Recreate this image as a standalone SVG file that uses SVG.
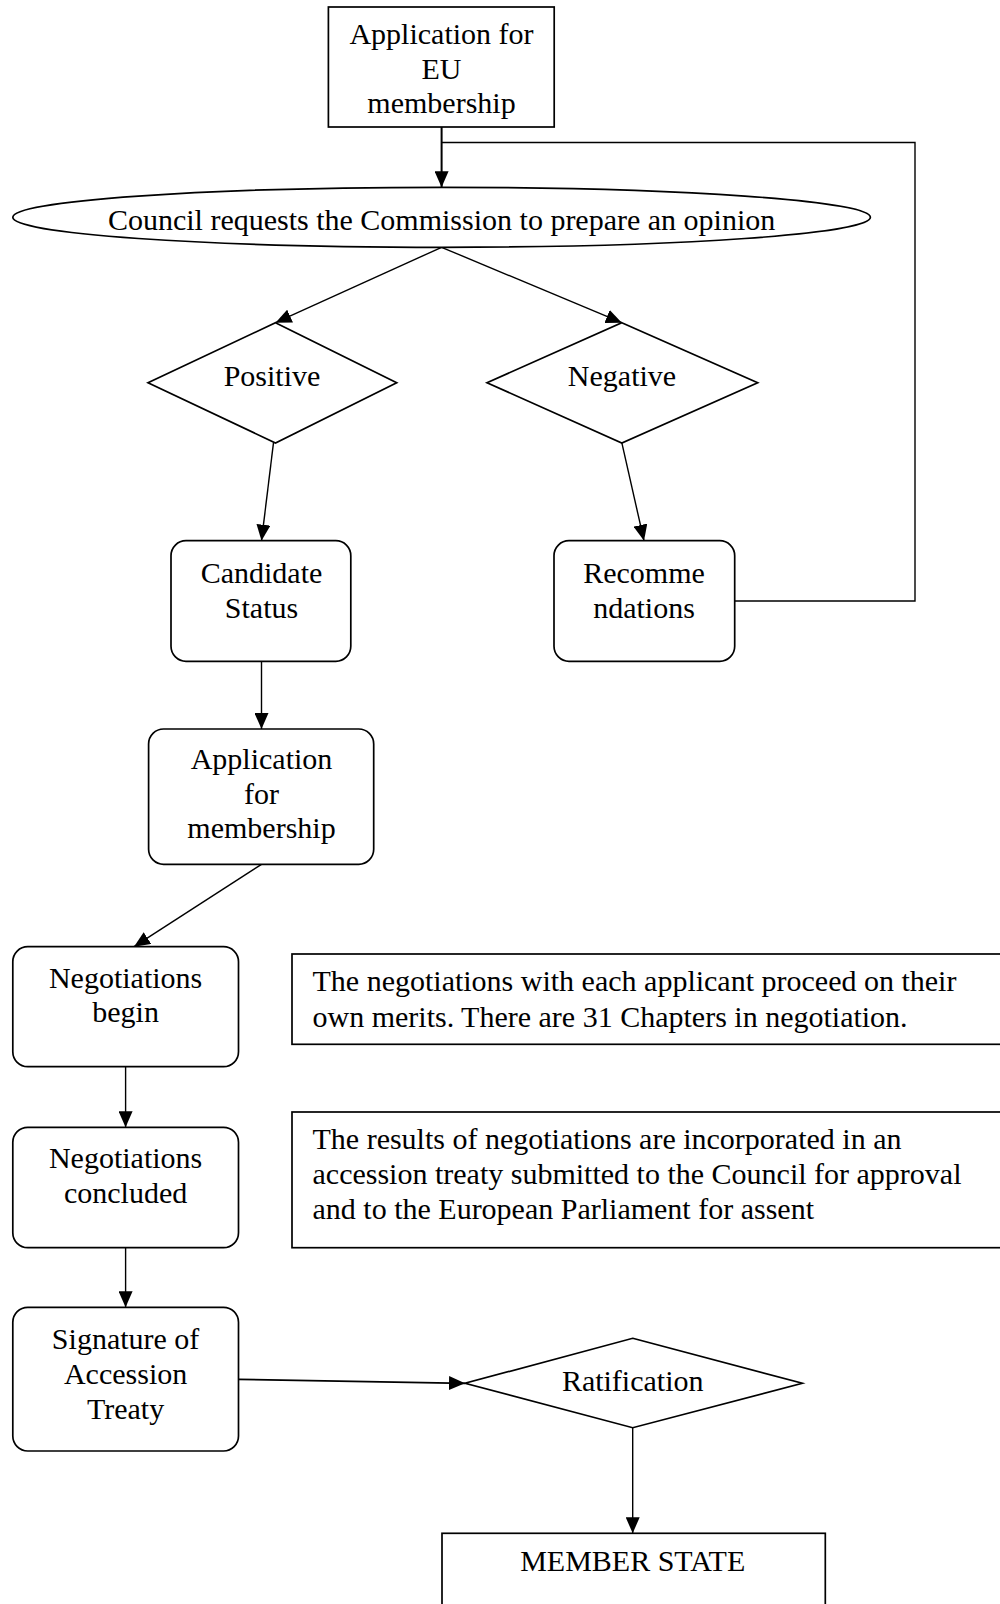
<svg xmlns="http://www.w3.org/2000/svg" width="1000" height="1604" viewBox="0 0 1000 1604">
<style>
.box{fill:#fff;stroke:#000;stroke-width:1.7}
.t{font-family:"Liberation Serif","Times New Roman",serif;font-size:30px;fill:#000}
.c{text-anchor:middle}
.ln{fill:none;stroke:#000;stroke-width:1.4}
.a{marker-end:url(#ah)}
</style>
<defs>
<marker id="ah" markerUnits="userSpaceOnUse" markerWidth="16" markerHeight="14" refX="16" refY="7" orient="auto" viewBox="0 0 16 14">
<path d="M0,0 L16,7 L0,14 z" fill="#000"/>
</marker>
</defs>
<rect width="1000" height="1604" fill="#fff"/>
<g id="connectors">
<line class="ln a" x1="441.6" y1="127" x2="441.6" y2="187.3" style="stroke-width:2"/>
<polyline class="ln" points="734.7,601 915,601 915,142.5 441.6,142.5"/>
<line class="ln a" x1="441.6" y1="247.3" x2="275.5" y2="322.7"/>
<line class="ln a" x1="441.6" y1="247.3" x2="621.8" y2="322.7"/>
<line class="ln a" x1="273.5" y1="442.7" x2="261.5" y2="540.7"/>
<line class="ln a" x1="621.8" y1="442.7" x2="644" y2="540.7"/>
<line class="ln a" x1="261.5" y1="661.3" x2="261.5" y2="729"/>
<line class="ln a" x1="261.5" y1="864.3" x2="134" y2="946.7"/>
<line class="ln a" x1="125.6" y1="1066.7" x2="125.6" y2="1127.3"/>
<line class="ln a" x1="125.6" y1="1247.7" x2="125.6" y2="1307.3"/>
<line class="ln a" x1="238.5" y1="1379.3" x2="465" y2="1383.3" style="stroke-width:1.8"/>
<line class="ln a" x1="632.7" y1="1427.7" x2="632.7" y2="1533.3"/>
</g>
<g id="n-application-eu">
<rect class="box" x="328.4" y="7" width="225.8" height="120"/>
<text class="t c" x="441.5" y="44">Application for</text>
<text class="t c" x="441.5" y="79">EU</text>
<text class="t c" x="441.5" y="113">membership</text>
</g>
<g id="n-council">
<ellipse class="box" cx="441.6" cy="217.3" rx="428.8" ry="30"/>
<text class="t c" x="441.6" y="230">Council requests the Commission to prepare an opinion</text>
</g>
<g id="n-positive">
<polygon class="box" points="275.5,322.7 396.7,382.7 275.5,443 148,382.7"/>
<text class="t c" x="272" y="386">Positive</text>
</g>
<g id="n-negative">
<polygon class="box" points="621.8,322.7 757.7,382.7 621.8,443 487,382.7"/>
<text class="t c" x="622" y="386">Negative</text>
</g>
<g id="n-candidate">
<rect class="box" x="171" y="540.7" width="179.8" height="120.6" rx="15" ry="15"/>
<text class="t c" x="261.5" y="582.5">Candidate</text>
<text class="t c" x="261.5" y="617.5">Status</text>
</g>
<g id="n-recommendations">
<rect class="box" x="554" y="540.7" width="180.7" height="120.6" rx="15" ry="15"/>
<text class="t c" x="644" y="582.5">Recomme</text>
<text class="t c" x="644" y="617.5">ndations</text>
</g>
<g id="n-application-membership">
<rect class="box" x="148.6" y="729" width="225.1" height="135.3" rx="15" ry="15"/>
<text class="t c" x="261.5" y="769">Application</text>
<text class="t c" x="261.5" y="804">for</text>
<text class="t c" x="261.5" y="838">membership</text>
</g>
<g id="n-neg-begin">
<rect class="box" x="12.8" y="946.7" width="225.7" height="120" rx="15" ry="15"/>
<text class="t c" x="125.6" y="988">Negotiations</text>
<text class="t c" x="125.6" y="1021.5">begin</text>
</g>
<g id="n-note1">
<rect class="box" x="292" y="954" width="720" height="90.3"/>
<text class="t" x="312.5" y="991">The negotiations with each applicant proceed on their</text>
<text class="t" x="312.5" y="1027">own merits. There are 31 Chapters in negotiation.</text>
</g>
<g id="n-neg-concluded">
<rect class="box" x="12.8" y="1127.3" width="225.7" height="120.4" rx="15" ry="15"/>
<text class="t c" x="125.6" y="1167.5">Negotiations</text>
<text class="t c" x="125.6" y="1202.5">concluded</text>
</g>
<g id="n-note2">
<rect class="box" x="292" y="1112" width="720" height="135.7"/>
<text class="t" x="312.5" y="1149">The results of negotiations are incorporated in an</text>
<text class="t" x="312.5" y="1184">accession treaty submitted to the Council for approval</text>
<text class="t" x="312.5" y="1219">and to the European Parliament for assent</text>
</g>
<g id="n-signature">
<rect class="box" x="12.8" y="1307.3" width="225.7" height="143.7" rx="15" ry="15"/>
<text class="t c" x="125.6" y="1349">Signature of</text>
<text class="t c" x="125.6" y="1384">Accession</text>
<text class="t c" x="125.6" y="1419">Treaty</text>
</g>
<g id="n-ratification">
<polygon class="box" points="632.7,1338.3 802.3,1383.3 632.7,1427.7 465,1383.3"/>
<text class="t c" x="632.7" y="1391">Ratification</text>
</g>
<g id="n-member-state">
<rect class="box" x="442" y="1533.3" width="383.3" height="90"/>
<text class="t c" x="632.7" y="1571">MEMBER STATE</text>
</g>
</svg>
